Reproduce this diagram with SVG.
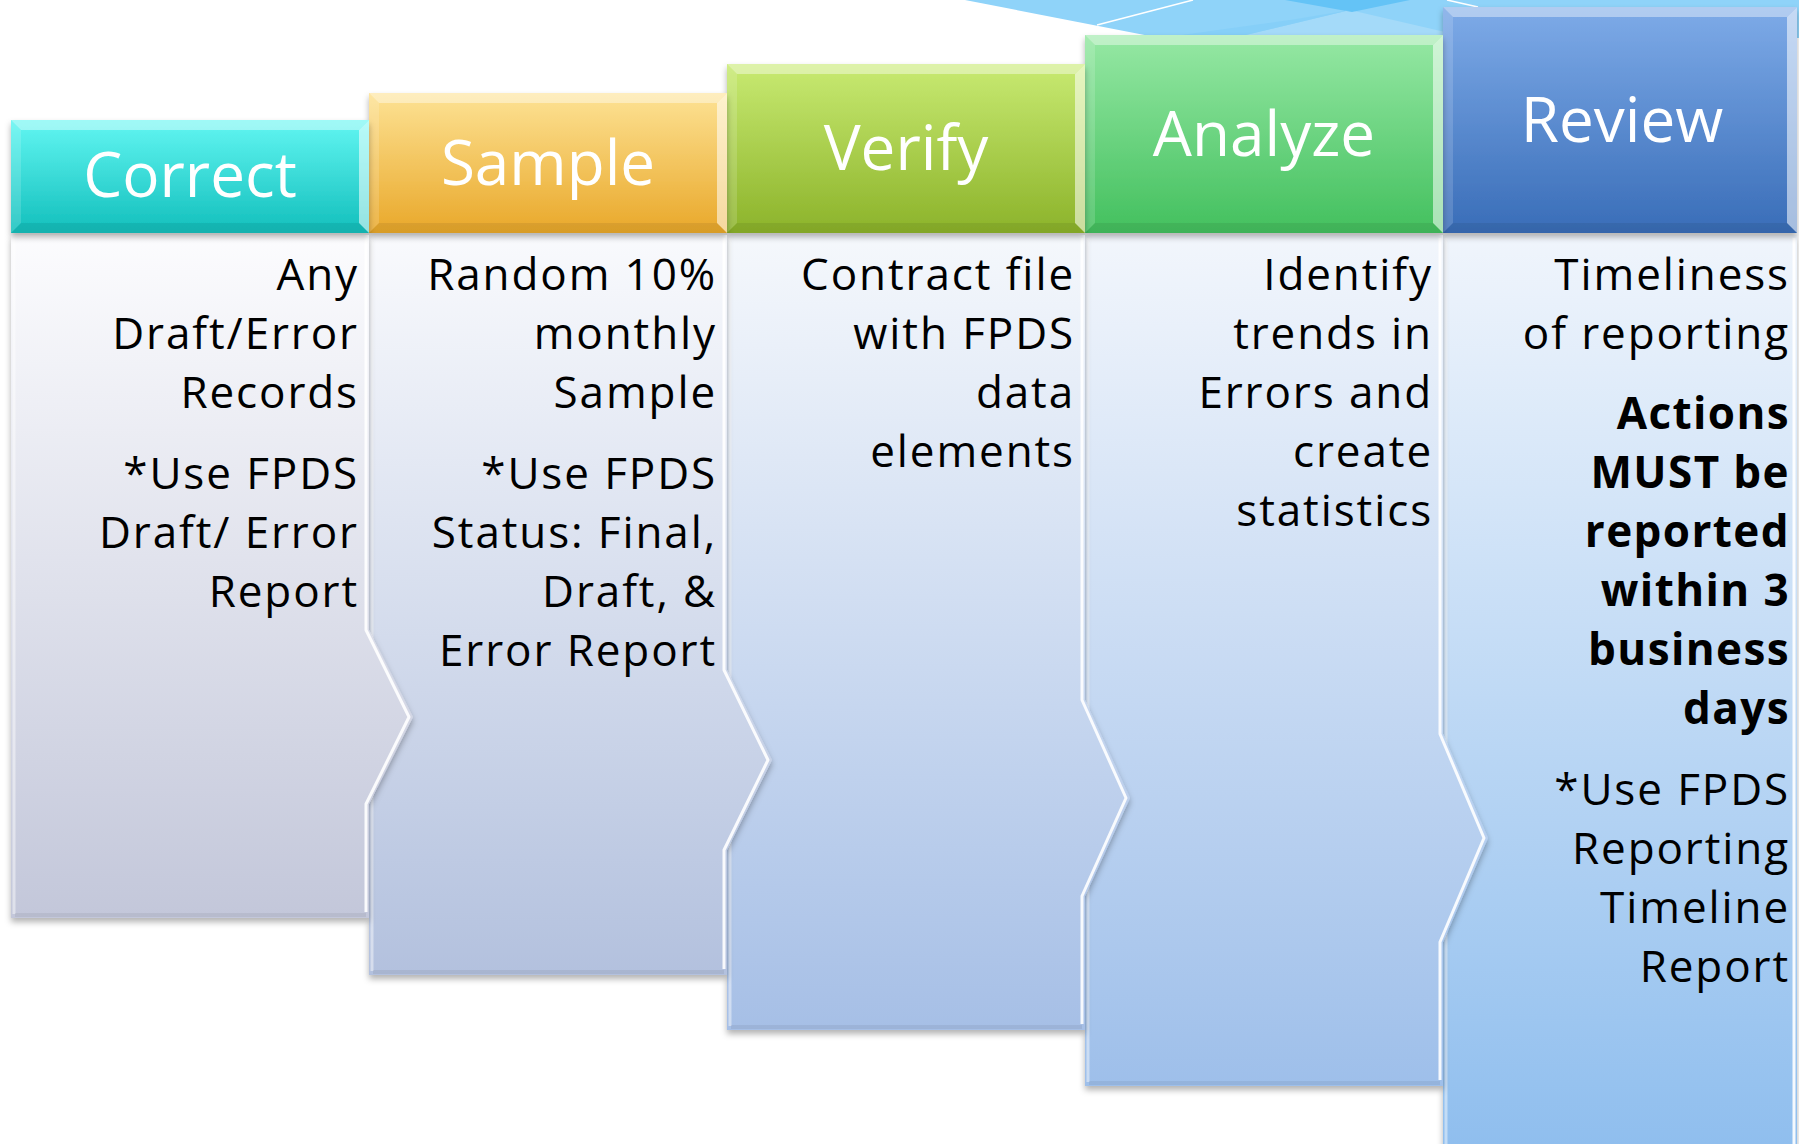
<svg xmlns="http://www.w3.org/2000/svg" width="1799" height="1144" viewBox="0 0 1799 1144">
<defs>
<style>
.hd{font-family:"Open Sans","Noto Sans",sans-serif;font-size:62px;fill:#ffffff;text-anchor:middle}
.bt{font-family:"Open Sans","Noto Sans",sans-serif;font-size:44px;fill:#000000;text-anchor:end;letter-spacing:1.9px}
.bb{font-weight:bold;letter-spacing:1.4px}
.bvT{fill:#ffffff;opacity:0.4}
.bvL{fill:#ffffff;opacity:0.15}
.bvR{fill:#ffffff;opacity:0.55}
.bvB{fill:#000000;opacity:0.07}
.hiR{fill:none;stroke:#ffffff;stroke-width:3;opacity:0.9;stroke-linejoin:round}
.hiL{fill:none;stroke:#ffffff;stroke-width:3;opacity:0.45}
.shB{fill:none;stroke:#000000;stroke-width:4;opacity:0.06}
</style>
<filter id="sh" x="-5%" y="-5%" width="115%" height="115%">
<feDropShadow dx="0" dy="4" stdDeviation="3" flood-color="#000000" flood-opacity="0.3"/>
</filter>
<linearGradient id="h1" x1="0" y1="0" x2="0" y2="1"><stop offset="0" stop-color="#62f6f2"/><stop offset="1" stop-color="#12bfbc"/></linearGradient>
<linearGradient id="h2" x1="0" y1="0" x2="0" y2="1"><stop offset="0" stop-color="#fde294"/><stop offset="1" stop-color="#e9a82a"/></linearGradient>
<linearGradient id="h3" x1="0" y1="0" x2="0" y2="1"><stop offset="0" stop-color="#c8ea72"/><stop offset="1" stop-color="#8cb32a"/></linearGradient>
<linearGradient id="h4" x1="0" y1="0" x2="0" y2="1"><stop offset="0" stop-color="#96e8a4"/><stop offset="1" stop-color="#43c05e"/></linearGradient>
<linearGradient id="h5" x1="0" y1="0" x2="0" y2="1"><stop offset="0" stop-color="#7eabe8"/><stop offset="1" stop-color="#396db8"/></linearGradient>
<linearGradient id="b1" x1="0" y1="0" x2="0" y2="1"><stop offset="0" stop-color="#fcfcfe"/><stop offset="1" stop-color="#c3c7da"/></linearGradient>
<linearGradient id="b2" x1="0" y1="0" x2="0" y2="1"><stop offset="0" stop-color="#f9fafd"/><stop offset="1" stop-color="#b3c1de"/></linearGradient>
<linearGradient id="b3" x1="0" y1="0" x2="0" y2="1"><stop offset="0" stop-color="#f5f8fc"/><stop offset="1" stop-color="#a6bfe6"/></linearGradient>
<linearGradient id="b4" x1="0" y1="0" x2="0" y2="1"><stop offset="0" stop-color="#f2f6fc"/><stop offset="1" stop-color="#9ebfea"/></linearGradient>
<linearGradient id="b5" x1="0" y1="0" x2="0" y2="1"><stop offset="0" stop-color="#f0f5fc"/><stop offset="1" stop-color="#8fbeee"/></linearGradient>
</defs>
<rect width="1799" height="1144" fill="#ffffff"/>
<g id="decor">
<polygon points="965,0 1160,38 1799,38 1799,0" fill="#8fd3f9"/>
<polygon points="1233,38 1350,10 1445,32 1445,38" fill="#a4daf9"/>
<polygon points="1285,0 1410,0 1352,12" fill="#64c3f6"/>
<polygon points="1160,38 1233,38 1350,10 1290,20" fill="#86cff8"/>
<line x1="1097" y1="25" x2="1193" y2="0" stroke="#ffffff" stroke-width="1.5"/>
<line x1="1447" y1="0" x2="1478" y2="7" stroke="#ffffff" stroke-width="1.5"/>
</g>
<g id="review">
<path d="M1443,235 H1797 V1150 H1443 Z" fill="url(#b5)" filter="url(#sh)"/>
<path class="hiL" d="M1446,238 V1144"/>
<path class="hiR" d="M1794,238 V1144"/>
<rect x="1443" y="7" width="354" height="226" fill="url(#h5)" filter="url(#sh)"/>
<polygon class="bvT" points="1443,7 1797,7 1787,17 1453,17"/>
<polygon class="bvL" points="1443,7 1453,17 1453,223 1443,233"/>
<polygon class="bvR" points="1797,7 1797,233 1787,223 1787,17"/>
<polygon class="bvB" points="1443,233 1797,233 1787,223 1453,223"/>
<text class="hd" x="1622" y="142">Review</text>
<text class="bt" x="1790" y="290">Timeliness</text>
<text class="bt" x="1790" y="349">of reporting</text>
<text class="bt bb" x="1790" y="429">Actions</text>
<text class="bt bb" x="1790" y="488">MUST be</text>
<text class="bt bb" x="1790" y="547">reported</text>
<text class="bt bb" x="1790" y="606">within 3</text>
<text class="bt bb" x="1790" y="665">business</text>
<text class="bt bb" x="1790" y="724">days</text>
<text class="bt" x="1790" y="805">*Use FPDS</text>
<text class="bt" x="1790" y="864">Reporting</text>
<text class="bt" x="1790" y="923">Timeline</text>
<text class="bt" x="1790" y="982">Report</text>
</g>
<g id="analyze">
<path d="M1085,235 H1443 V734 L1488,838 L1443,942 V1086 H1085 Z" fill="url(#b4)" filter="url(#sh)"/>
<path class="hiL" d="M1088,238 V1082"/>
<path class="hiR" d="M1440,238 V734 L1484,838 L1440,942 V1080"/>
<path class="shB" d="M1089,1083 H1440"/>
<rect x="1085" y="35" width="358" height="198" fill="url(#h4)" filter="url(#sh)"/>
<polygon class="bvT" points="1085,35 1443,35 1433,45 1095,45"/>
<polygon class="bvL" points="1085,35 1095,45 1095,223 1085,233"/>
<polygon class="bvR" points="1443,35 1443,233 1433,223 1433,45"/>
<polygon class="bvB" points="1085,233 1443,233 1433,223 1095,223"/>
<text class="hd" x="1264" y="156">Analyze</text>
<text class="bt" x="1433" y="290">Identify</text>
<text class="bt" x="1433" y="349">trends in</text>
<text class="bt" x="1433" y="408">Errors and</text>
<text class="bt" x="1433" y="467">create</text>
<text class="bt" x="1433" y="526">statistics</text>
</g>
<g id="verify">
<path d="M727,235 H1085 V700 L1130,798 L1085,896 V1030 H727 Z" fill="url(#b3)" filter="url(#sh)"/>
<path class="hiL" d="M730,238 V1026"/>
<path class="hiR" d="M1082,238 V700 L1126,798 L1082,896 V1024"/>
<path class="shB" d="M731,1027 H1082"/>
<rect x="727" y="64" width="358" height="169" fill="url(#h3)" filter="url(#sh)"/>
<polygon class="bvT" points="727,64 1085,64 1075,74 737,74"/>
<polygon class="bvL" points="727,64 737,74 737,223 727,233"/>
<polygon class="bvR" points="1085,64 1085,233 1075,223 1075,74"/>
<polygon class="bvB" points="727,233 1085,233 1075,223 737,223"/>
<text class="hd" x="906" y="170">Verify</text>
<text class="bt" x="1075" y="290">Contract file</text>
<text class="bt" x="1075" y="349">with FPDS</text>
<text class="bt" x="1075" y="408">data</text>
<text class="bt" x="1075" y="467">elements</text>
</g>
<g id="sample">
<path d="M369,235 H727 V670 L772,760 L727,850 V975 H369 Z" fill="url(#b2)" filter="url(#sh)"/>
<path class="hiL" d="M372,238 V971"/>
<path class="hiR" d="M724,238 V670 L768,760 L724,850 V969"/>
<path class="shB" d="M373,972 H724"/>
<rect x="369" y="93" width="358" height="140" fill="url(#h2)" filter="url(#sh)"/>
<polygon class="bvT" points="369,93 727,93 717,103 379,103"/>
<polygon class="bvL" points="369,93 379,103 379,223 369,233"/>
<polygon class="bvR" points="727,93 727,233 717,223 717,103"/>
<polygon class="bvB" points="369,233 727,233 717,223 379,223"/>
<text class="hd" x="548" y="185">Sample</text>
<text class="bt" x="717" y="290">Random 10%</text>
<text class="bt" x="717" y="349">monthly</text>
<text class="bt" x="717" y="408">Sample</text>
<text class="bt" x="717" y="489">*Use FPDS</text>
<text class="bt" x="717" y="548">Status: Final,</text>
<text class="bt" x="717" y="607">Draft, &amp;</text>
<text class="bt" x="717" y="666">Error Report</text>
</g>
<g id="correct">
<path d="M11,235 H369 V630 L413,717 L369,804 V918 H11 Z" fill="url(#b1)" filter="url(#sh)"/>
<path class="hiL" d="M14,238 V914"/>
<path class="hiR" d="M366,238 V630 L409,717 L366,804 V912"/>
<path class="shB" d="M15,915 H366"/>
<rect x="11" y="120" width="358" height="113" fill="url(#h1)" filter="url(#sh)"/>
<polygon class="bvT" points="11,120 369,120 359,130 21,130"/>
<polygon class="bvL" points="11,120 21,130 21,223 11,233"/>
<polygon class="bvR" points="369,120 369,233 359,223 359,130"/>
<polygon class="bvB" points="11,233 369,233 359,223 21,223"/>
<text class="hd" x="190" y="197">Correct</text>
<text class="bt" x="359" y="290">Any</text>
<text class="bt" x="359" y="349">Draft/Error</text>
<text class="bt" x="359" y="408">Records</text>
<text class="bt" x="359" y="489">*Use FPDS</text>
<text class="bt" x="359" y="548">Draft/ Error</text>
<text class="bt" x="359" y="607">Report</text>
</g>
<g id="connectors"></g>
</svg>
